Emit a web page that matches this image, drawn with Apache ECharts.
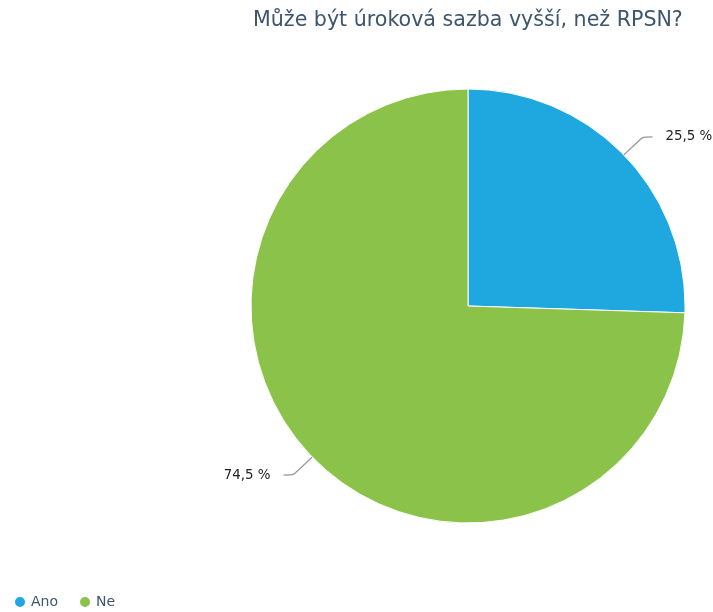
<!DOCTYPE html>
<html>
<head>
<meta charset="utf-8">
<script src="https://cdn.jsdelivr.net/npm/echarts@6/dist/echarts.min.js"></script>
<style>
  html, body { margin: 0; padding: 0; background: #fff; }
  #chart { width: 713px; height: 612px; }
</style>
</head>
<body>
<div id="chart"></div>
<script>
// data
const categories = ['Ano', 'Ne'];
const values = [25.5, 74.5];
const colors = ['#1fa8e0', '#8bc34a'];

const chart = echarts.init(document.getElementById('chart'));
chart.setOption({
  animation: false,
  textStyle: { fontFamily: 'DejaVu Sans' },
  title: {
    text: 'Může být úroková sazba vyšší, než RPSN?',
    left: 248,
    top: 5,
    textStyle: { fontSize: 20.6, fontWeight: 'normal', color: '#3d566e', fontFamily: 'DejaVu Sans' }
  },
  legend: {
    left: 8,
    bottom: -2,
    icon: 'circle',
    itemWidth: 12,
    itemHeight: 12,
    itemGap: 20,
    textStyle: { fontSize: 14, color: '#3d566e', fontFamily: 'DejaVu Sans' },
    data: categories
  },
  series: [{
    type: 'pie',
    center: [468, 306],
    radius: 217,
    startAngle: 90,
    clockwise: true,
    color: colors,
    itemStyle: { borderColor: '#fff', borderWidth: 1 },
    label: {
      formatter: p => String(p.value).replace('.', ',') + ' %',
      fontSize: 13.4,
      color: '#222',
      fontFamily: 'DejaVu Sans',
      overflow: 'none',
      distanceToLabelLine: 13
    },
    labelLine: { length: 26, length2: 10, smooth: 0.2, lineStyle: { color: '#999', width: 1.2 } },
    data: categories.map((c, i) => ({ name: c, value: values[i] }))
  }]
});
</script>
</body>
</html>
